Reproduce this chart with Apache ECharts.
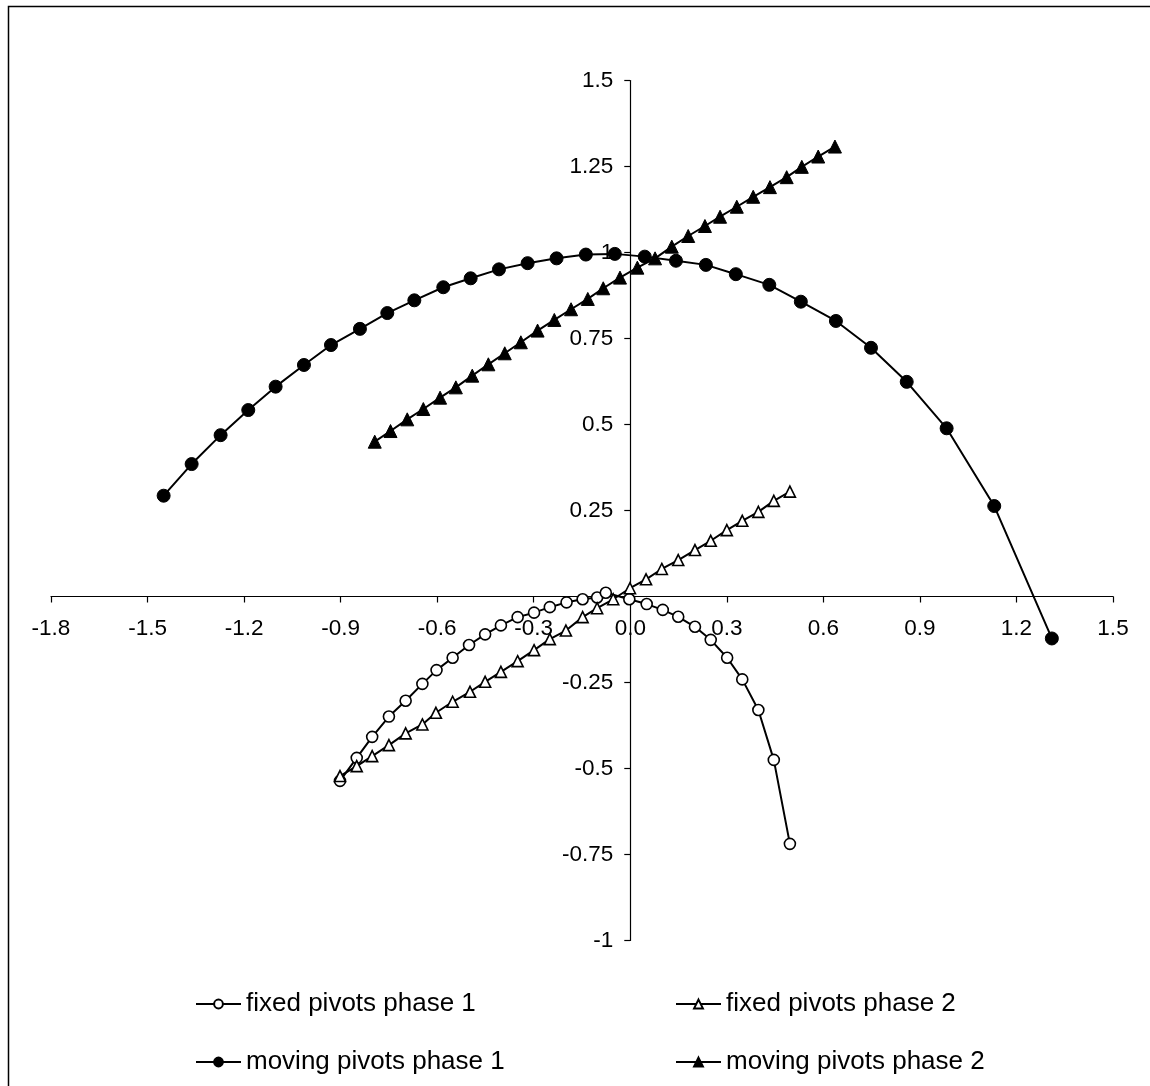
<!DOCTYPE html>
<html>
<head>
<meta charset="utf-8">
<script src="https://cdn.jsdelivr.net/npm/echarts@6/dist/echarts.min.js"></script>
<style>
  html, body { margin: 0; padding: 0; background: #fff; }
  #chart { width: 1150px; height: 1086px; }
</style>
</head>
<body>
<div id="chart"></div>
<script>
// ---- data ----
const seriesNames = ['fixed pivots phase 1', 'fixed pivots phase 2', 'moving pivots phase 1', 'moving pivots phase 2'];

const fixedPhase1 = [
  [-0.902, -0.536], [-0.850, -0.469], [-0.802, -0.408], [-0.750, -0.349], [-0.698, -0.303],
  [-0.646, -0.254], [-0.602, -0.214], [-0.552, -0.178], [-0.501, -0.141], [-0.451, -0.110],
  [-0.402, -0.084], [-0.350, -0.060], [-0.299, -0.047], [-0.250, -0.031], [-0.198, -0.017],
  [-0.148, -0.008], [-0.103, -0.003], [-0.076, 0.011], [-0.003, -0.008], [0.051, -0.022],
  [0.101, -0.039], [0.149, -0.059], [0.201, -0.088], [0.250, -0.126], [0.301, -0.178],
  [0.348, -0.241], [0.398, -0.330], [0.446, -0.475], [0.496, -0.719]
];

const fixedPhase2 = [
  [-0.902, -0.522], [-0.850, -0.493], [-0.802, -0.464], [-0.750, -0.432], [-0.698, -0.398],
  [-0.646, -0.372], [-0.604, -0.338], [-0.552, -0.306], [-0.498, -0.277], [-0.451, -0.248],
  [-0.402, -0.219], [-0.350, -0.188], [-0.299, -0.156], [-0.250, -0.124], [-0.200, -0.099],
  [-0.148, -0.060], [-0.103, -0.034], [-0.053, -0.008], [-0.001, 0.024], [0.049, 0.050],
  [0.098, 0.080], [0.149, 0.106], [0.201, 0.135], [0.250, 0.162], [0.300, 0.193],
  [0.348, 0.220], [0.398, 0.246], [0.446, 0.278], [0.496, 0.305]
];

const movingPhase1 = [
  [-1.450, 0.293], [-1.363, 0.385], [-1.273, 0.469], [-1.187, 0.542], [-1.102, 0.610],
  [-1.014, 0.673], [-0.930, 0.731], [-0.840, 0.778], [-0.755, 0.824], [-0.671, 0.861],
  [-0.581, 0.899], [-0.496, 0.925], [-0.408, 0.951], [-0.319, 0.969], [-0.229, 0.983],
  [-0.138, 0.994], [-0.048, 0.996], [0.045, 0.988], [0.142, 0.976], [0.235, 0.964],
  [0.328, 0.937], [0.432, 0.906], [0.530, 0.857], [0.639, 0.801], [0.748, 0.723],
  [0.859, 0.624], [0.983, 0.489], [1.131, 0.263], [1.310, -0.122]
];

const movingPhase2 = [
  [-0.794, 0.450], [-0.745, 0.481], [-0.693, 0.515], [-0.643, 0.545], [-0.591, 0.578],
  [-0.542, 0.608], [-0.491, 0.642], [-0.441, 0.675], [-0.390, 0.707], [-0.340, 0.739],
  [-0.288, 0.773], [-0.236, 0.804], [-0.184, 0.835], [-0.132, 0.865], [-0.084, 0.896],
  [-0.032, 0.927], [0.022, 0.956], [0.077, 0.983], [0.129, 1.017], [0.180, 1.048],
  [0.232, 1.077], [0.279, 1.104], [0.331, 1.133], [0.382, 1.162], [0.434, 1.190],
  [0.486, 1.219], [0.533, 1.249], [0.584, 1.279], [0.636, 1.308]
];

// axis ranges / ticks
const xRange = { min: -1.8, max: 1.5, interval: 0.3 };
const yRange = { min: -1, max: 1.5, interval: 0.25 };

// ---- layout ----
const W = 1150, H = 1086;
const grid = { left: 51, right: 37, top: 80.5, bottom: 145.5 };
const gridW = W - grid.left - grid.right;
const gridH = H - grid.top - grid.bottom;
// axes cross at zero: shift each axis from the grid edge to the zero line
const xAxisShift = -gridH * (0 - yRange.min) / (yRange.max - yRange.min);
const yAxisShift = -gridW * (0 - xRange.min) / (xRange.max - xRange.min);

// ---- chart ----
const FONT = '"Liberation Sans", Arial, Helvetica, sans-serif';
const chart = echarts.init(document.getElementById('chart'), null, { renderer: 'canvas' });

function lineSeries(name, data, symbol, size, filled) {
  return {
    name: name,
    type: 'line',
    data: data,
    symbol: symbol,
    symbolSize: size,
    showSymbol: true,
    smooth: false,
    animation: false,
    lineStyle: { color: '#000', width: 2 },
    itemStyle: filled
      ? { color: '#000', borderColor: '#000', borderWidth: 1 }
      : { color: '#fff', borderColor: '#000', borderWidth: 1.6 },
    emphasis: { disabled: true }
  };
}

const legendCommon = {
  itemWidth: 45,
  itemHeight: 11,
  textStyle: { fontSize: 26, color: '#000', fontFamily: FONT },
  selectedMode: false
};

const option = {
  animation: false,
  backgroundColor: '#fff',
  grid: {
    left: grid.left, right: grid.right, top: grid.top, bottom: grid.bottom,
    containLabel: false, outerBoundsMode: 'none'
  },
  xAxis: {
    type: 'value',
    position: 'bottom',
    offset: xAxisShift,
    min: xRange.min, max: xRange.max, interval: xRange.interval,
    axisLine: { onZero: false, lineStyle: { color: '#000', width: 1.2 } },
    axisTick: { show: true, length: 6, lineStyle: { color: '#000', width: 1.2 } },
    splitLine: { show: false },
    axisLabel: {
      margin: 21,
      fontSize: 22.5, color: '#000', fontFamily: FONT,
      formatter: v => (Math.abs(v) < 1e-9 ? '0.0' : v.toFixed(1))
    }
  },
  yAxis: {
    type: 'value',
    position: 'left',
    offset: yAxisShift,
    min: yRange.min, max: yRange.max, interval: yRange.interval,
    axisLine: { onZero: false, lineStyle: { color: '#000', width: 1.2 } },
    axisTick: { show: true, length: 6, lineStyle: { color: '#000', width: 1.2 } },
    splitLine: { show: false },
    axisLabel: {
      margin: 17,
      fontSize: 22.5, color: '#000', fontFamily: FONT,
      formatter: v => (Math.abs(v) < 1e-9 ? '' : String(+v.toFixed(2)))
    }
  },
  legend: [
    Object.assign({ data: [seriesNames[0]], left: 190, top: 986 }, legendCommon),
    Object.assign({ data: [seriesNames[1]], left: 670, top: 986 }, legendCommon),
    Object.assign({ data: [seriesNames[2]], left: 190, top: 1044 }, legendCommon),
    Object.assign({ data: [seriesNames[3]], left: 670, top: 1044 }, legendCommon)
  ],
  graphic: [{
    type: 'rect',
    left: 6, top: 4,
    shape: { width: 1300, height: 1300 },
    style: { fill: 'none', stroke: '#000', lineWidth: 1.5 },
    silent: true
  }],
  series: [
    lineSeries(seriesNames[0], fixedPhase1, 'circle', 11, false),
    lineSeries(seriesNames[1], fixedPhase2, 'triangle', 11, false),
    lineSeries(seriesNames[2], movingPhase1, 'circle', 13, true),
    lineSeries(seriesNames[3], movingPhase2, 'triangle', 13, true)
  ]
};

chart.setOption(option);
</script>
</body>
</html>
